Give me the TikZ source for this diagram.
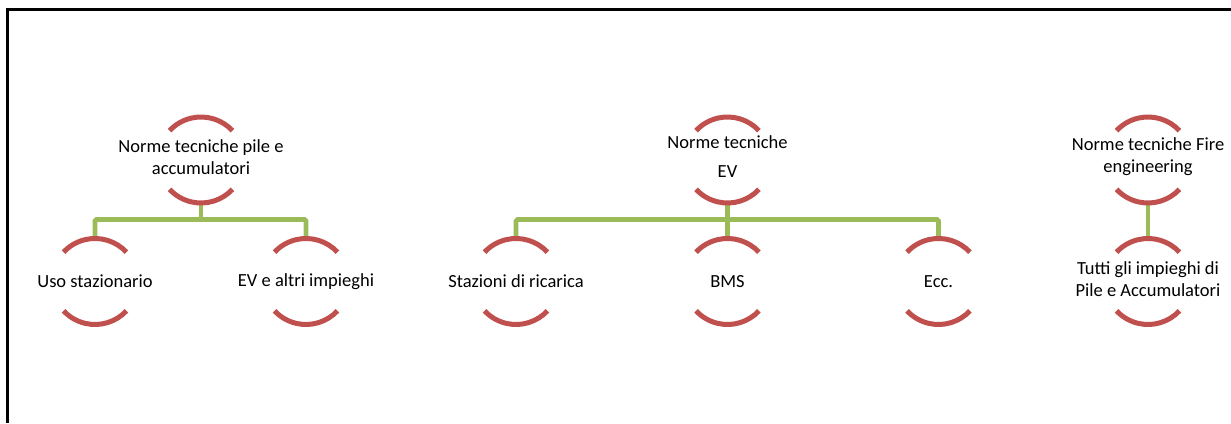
\documentclass[tikz,border=0pt]{standalone}
\usepackage{fontspec}
\setmainfont{Carlito}
\definecolor{arcred}{HTML}{C0504D}
\definecolor{lineg}{HTML}{9BBB59}
\tikzset{
  ring/.style={circle, minimum size=86pt, inner sep=0pt, outer sep=0pt},
  lbl/.style={align=center, inner sep=0pt, font=\fontsize{18.5}{22}\selectfont},
  arcst/.style={draw=arcred, line width=5pt},
  conn/.style={draw=lineg, line width=4.6pt, rounded corners=1.5pt},
  frame/.style={draw=black, line width=2.2pt}
}
\newcommand{\ringarcs}[1]{%
  \draw[arcst] (#1.43) arc[start angle=43, end angle=137, radius=43pt];
  \draw[arcst] (#1.-43) arc[start angle=-43, end angle=-137, radius=43pt];
}
\begin{document}
\begin{tikzpicture}[x=1pt,y=1pt]
\useasboundingbox (0,0) rectangle (1231,423);
\draw[frame] (7.5,0) -- (7.5,413.5) -- (1231,413.5);
% group 1
\node[ring] (p1) at (201,263) {};
\node[ring] (c1) at (95,141.5) {};
\node[ring] (c2) at (306,141.5) {};
\coordinate (b1) at (201,203.5);
% group 2
\node[ring] (p2) at (727.5,263) {};
\node[ring] (c3) at (516,141.5) {};
\node[ring] (c4) at (727.5,141.5) {};
\node[ring] (c5) at (938.5,141.5) {};
\coordinate (b2) at (727.5,203.5);
% group 3
\node[ring] (p3) at (1148,263) {};
\node[ring] (c6) at (1148,141.5) {};
% connectors
\draw[conn] (p1.south) -- (b1);
\draw[conn] (c1.north) -- (c1.north |- b1) -- (c2.north |- b1) -- (c2.north);
\draw[conn] (p2.south) -- (c4.north);
\draw[conn] (c3.north) -- (c3.north |- b2) -- (c5.north |- b2) -- (c5.north);
\draw[conn] (p3.south) -- (c6.north);
% arcs
\ringarcs{p1}\ringarcs{c1}\ringarcs{c2}
\ringarcs{p2}\ringarcs{c3}\ringarcs{c4}\ringarcs{c5}
\ringarcs{p3}\ringarcs{c6}
% labels
\node[lbl] (t1) at ([yshift=3pt]p1) {Norme tecniche pile e\\accumulatori};
\node[lbl] (t2) at (c1) {Uso stazionario};
\node[lbl] (t3) at (c2) {EV e altri impieghi};
\node[lbl] (t4) at ([yshift=3pt]p2) {Norme tecniche\\[7pt]EV};
\node[lbl] (t5) at (c3) {Stazioni di ricarica};
\node[lbl] (t6) at (c4) {BMS};
\node[lbl] (t7) at (c5) {Ecc.};
\node[lbl] (t8) at ([yshift=3pt]p3) {Norme tecniche Fire\\engineering};
\node[lbl] (t9) at ([yshift=2pt]c6) {Tutti gli impieghi di\\Pile e Accumulatori};
\end{tikzpicture}
\end{document}
